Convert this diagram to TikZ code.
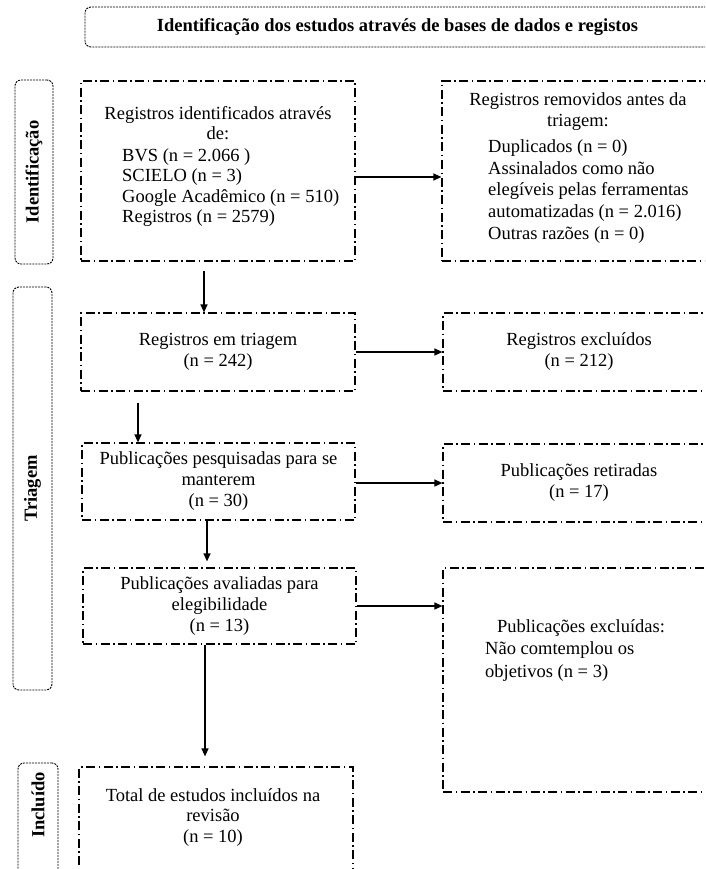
\documentclass[tikz,border=0pt]{standalone}
\usepackage{fontspec}
\setmainfont{Liberation Serif}
\usetikzlibrary{arrows.meta}
\begin{document}
\begin{tikzpicture}[x=1pt,y=-1pt,
  box/.style={draw, line width=1.2pt, dash pattern=on 9pt off 3.5pt on 1.5pt off 3.5pt, inner sep=0pt, align=center, font=\fontsize{18.5}{21}\selectfont},
  side/.style={draw, line width=0.9pt, dash pattern=on 2pt off 1pt, rounded corners=6pt, inner sep=0pt},
  txt/.style={font=\fontsize{18.5}{20.5}\selectfont, inner sep=0pt, align=center},
  ltxt/.style={inner sep=0pt, align=left, anchor=west},
  lbl/.style={font=\fontsize{18.5}{20.5}\selectfont\bfseries, rotate=90, inner sep=0pt},
  arr/.style={line width=1.3pt, -{Triangle[length=8pt,width=7pt]}}]
\useasboundingbox (0,0) rectangle (705,869);
\clip (0,0) rectangle (705,869);

% title
\node[side, minimum width=630pt, minimum height=40pt] (title) at (400,27) {};
\node[font=\fontsize{18.5}{20.5}\selectfont\bfseries, inner sep=0pt] (titletxt) at (397.5,27) {Identificação dos estudos através de bases de dados e registos};

% side boxes
\node[side, minimum width=38pt, minimum height=184pt] (s1) at (34,172) {};
\node[lbl] (s1txt) at (34,172) {Identificação};
\node[side, minimum width=39pt, minimum height=403pt] (s2) at (32.5,488.5) {};
\node[lbl] (s2txt) at (32.5,488.5) {Triagem};
\node[side, minimum width=40pt, minimum height=137pt] (s3) at (38,831.5) {};
\node[lbl] (s3txt) at (38,805) {Incluído};

% main boxes
\node[box, minimum width=274pt, minimum height=180pt] (b1) at (218,171) {};
\node[txt] (b1a) at (218,123) {Registros identificados através\\de:};
\node[ltxt, font=\fontsize{18.5}{20.3}\selectfont] (b1b) at (122,187.5) {BVS (n = 2.066 )\\SCIELO (n = 3)\\Google Acadêmico (n = 510)\\Registros (n = 2579)};

\node[box, minimum width=273pt, minimum height=180pt] (b2) at (578.5,171) {};
\node[txt] (b2a) at (578,111.5) {Registros removidos antes da\\triagem:};
\node[ltxt, font=\fontsize{18.5}{21.75}\selectfont] (b2b) at (488,191.5) {Duplicados (n = 0)\\Assinalados como não\\elegíveis pelas ferramentas\\automatizadas (n = 2.016)\\Outras razões (n = 0)};

\node[box, minimum width=274pt, minimum height=78pt] (b3) at (218,352) {Registros em triagem\\(n = 242)};
\node[box, minimum width=272pt, minimum height=78pt] (b7) at (579,352) {Registros excluídos\\(n = 212)};

\node[box, minimum width=273pt, minimum height=77pt] (b4) at (218.5,481.5) {Publicações pesquisadas para se\\manterem\\(n = 30)};
\node[box, minimum width=272pt, minimum height=78pt] (b8) at (579,483) {Publicações retiradas\\(n = 17)};

\node[box, minimum width=273pt, minimum height=76pt] (b5) at (219.5,606) {Publicações avaliadas para\\elegibilidade\\(n = 13)};
\node[box, minimum width=272pt, minimum height=224pt] (b9) at (579,680) {};
\node[txt] (b9a) at (581,628) {Publicações excluídas:};
\node[ltxt, font=\fontsize{18.5}{22.5}\selectfont] (b9b) at (485,661.5) {Não comtemplou os\\objetivos (n = 3)};

\node[box, minimum width=274pt, minimum height=133pt] (b6) at (216,833.5) {};
\node[txt] (b6a) at (213,817.5) {Total de estudos incluídos na\\revisão\\(n = 10)};

% arrows
\draw[arr] ([xshift=-14pt,yshift=-9pt]b1.south) -- ([xshift=-14pt]b3.north);
\draw[arr] ([yshift=-6pt]b1.east) -- ([yshift=-6pt]b2.west);
\draw[arr] (b3.east) -- (b7.west);
\draw[arr] ([xshift=-80pt,yshift=-11pt]b3.south) -- ([xshift=-80.5pt]b4.north);
\draw[arr] ([yshift=-1.5pt]b4.east) -- (b8.west);
\draw[arr] ([xshift=-11.5pt]b4.south) -- ([xshift=-12.5pt,yshift=6pt]b5.north);
\draw[arr] (b5.east) -- (b5.east -| b9.west);
\draw[arr] ([xshift=-14.5pt]b5.south) -- ([xshift=-11pt,yshift=10pt]b6.north);
\end{tikzpicture}
\end{document}
